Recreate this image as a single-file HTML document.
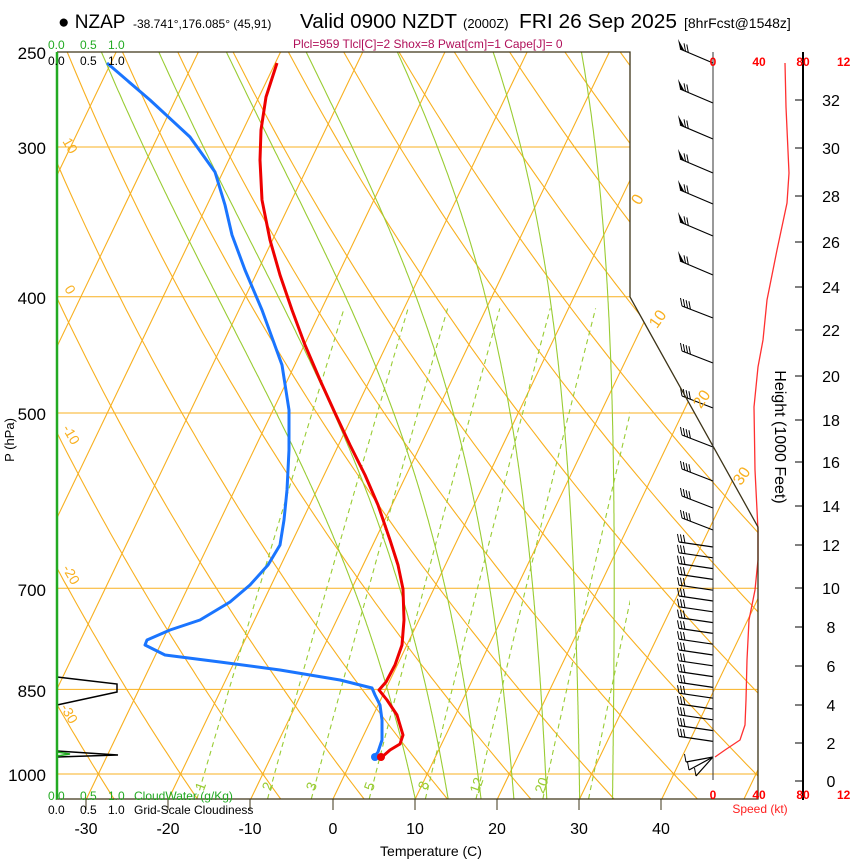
<!DOCTYPE html>
<html><head><meta charset="utf-8"><style>
html,body{margin:0;padding:0;background:#fff;}
svg{display:block;font-family:"Liberation Sans",sans-serif;}
</style></head><body>
<svg id="s" width="850" height="860" viewBox="0 0 850 860" xmlns="http://www.w3.org/2000/svg">
<defs><clipPath id="cp"><polygon points="57,52 630,52 630,297 758,527 758,799 57,799"/></clipPath>
<clipPath id="cm"><rect x="57" y="52" width="573" height="747"/></clipPath></defs>
<g id="grid" clip-path="url(#cp)"></g>
<g id="mgrid" clip-path="url(#cm)"></g>
<g id="data"></g>
<polyline points="57,52 630,52 630,297 758,527 758,799 57,799" fill="none" stroke="#3d3418" stroke-width="1.3"/>
<line x1="713" y1="52" x2="713" y2="780" stroke="#333" stroke-width="1"/>
<line x1="803" y1="52" x2="803" y2="800" stroke="#000" stroke-width="2"/>
<line x1="57" y1="52" x2="57" y2="799" stroke="#22aa22" stroke-width="2.5"/>
<g id="ticks"></g>
<text x="58" y="28" font-size="19">● NZAP</text>
<text x="133" y="28" font-size="12">-38.741°,176.085° (45,91)</text>
<text x="300" y="28" font-size="20" textLength="157" lengthAdjust="spacingAndGlyphs">Valid 0900 NZDT</text>
<text x="463" y="28" font-size="13">(2000Z)</text>
<text x="519" y="28" font-size="20" textLength="158" lengthAdjust="spacingAndGlyphs">FRI 26 Sep 2025</text>
<text x="684" y="28" font-size="14">[8hrFcst@1548z]</text>
<text x="293" y="48" font-size="12" fill="#b0105a">Plcl=959 Tlcl[C]=2 Shox=8 Pwat[cm]=1 Cape[J]= 0</text>
<g font-size="12" fill="#22aa22"><text x="48" y="49">0.0</text><text x="80" y="49">0.5</text><text x="108" y="49">1.0</text></g>
<g font-size="12" fill="#000"><text x="48" y="65">0.0</text><text x="80" y="65">0.5</text><text x="108" y="65">1.0</text></g>
<g font-size="12" fill="#22aa22"><text x="48" y="800">0.0</text><text x="80" y="800">0.5</text><text x="108" y="800">1.0</text><text x="134" y="800">CloudWater (g/Kg)</text></g>
<g font-size="12" fill="#000"><text x="48" y="814">0.0</text><text x="80" y="814">0.5</text><text x="108" y="814">1.0</text><text x="134" y="814">Grid-Scale Cloudiness</text></g>
<g font-size="17" text-anchor="end"><text x="46" y="59">250</text><text x="46" y="154">300</text><text x="46" y="304">400</text><text x="46" y="420">500</text><text x="46" y="596">700</text><text x="46" y="697">850</text><text x="46" y="781">1000</text></g>
<text transform="translate(14,440) rotate(-90)" font-size="13" text-anchor="middle">P (hPa)</text>
<g font-size="16" text-anchor="middle"><text x="86" y="834">-30</text><text x="168" y="834">-20</text><text x="250" y="834">-10</text><text x="333" y="834">0</text><text x="415" y="834">10</text><text x="497" y="834">20</text><text x="579" y="834">30</text><text x="661" y="834">40</text></g>
<text x="431" y="856" font-size="14" text-anchor="middle">Temperature (C)</text>
<g font-size="12" fill="#ff0000" font-weight="bold" text-anchor="middle"><text x="713" y="66">0</text><text x="759" y="66">40</text><text x="803" y="66">80</text><text x="847" y="66">120</text>
<text x="713" y="799">0</text><text x="759" y="799">40</text><text x="803" y="799">80</text><text x="847" y="799">120</text></g>
<text x="760" y="813" font-size="12" fill="#ff2020" text-anchor="middle">Speed (kt)</text>
<text transform="translate(775,437) rotate(90)" font-size="16" text-anchor="middle">Height (1000 Feet)</text>
<g id="hl" font-size="16" text-anchor="middle"></g>
<g font-size="16" fill="#f8b020" text-anchor="middle">
<text transform="translate(642,202) rotate(-60)">0</text>
<text transform="translate(662,322) rotate(-55)">10</text>
<text transform="translate(706,402) rotate(-55)">20</text>
<text transform="translate(746,479) rotate(-55)">30</text>
</g>
<g font-size="14" fill="#f8b020" text-anchor="middle">
<text transform="translate(66,148) rotate(60)">10</text>
<text transform="translate(66,292) rotate(60)">0</text>
<text transform="translate(67,437) rotate(60)">-10</text>
<text transform="translate(67,577) rotate(60)">-20</text>
<text transform="translate(65,716) rotate(60)">-30</text>
</g>
<g font-size="14" fill="#99cc33" text-anchor="middle">
<text transform="translate(205,788) rotate(-70)">1</text>
<text transform="translate(272,788) rotate(-70)">2</text>
<text transform="translate(316,788) rotate(-70)">3</text>
<text transform="translate(374,788) rotate(-70)">5</text>
<text transform="translate(428,787) rotate(-70)">8</text>
<text transform="translate(481,787) rotate(-70)">12</text>
<text transform="translate(546,787) rotate(-70)">20</text>
</g>
</svg>
<script>
(function(){
var NS="http://www.w3.org/2000/svg";
function el(par,tag,at){var e=document.createElementNS(NS,tag);for(var k in at)e.setAttribute(k,at[k]);document.getElementById(par).appendChild(e);return e;}
function Y(p){return 774-520.8*Math.log(1000/p);}
function X(T,p){return 333+8.22*T+0.48*(799-Y(p));}
var OR="#f8b020";
var pb=1049;
[300,400,500,700,850,1000].forEach(function(p){el("grid","line",{x1:57,x2:760,y1:Y(p),y2:Y(p),stroke:OR,"stroke-width":1});});
for(var T=-120;T<=60;T+=10){el("grid","line",{x1:X(T,pb),y1:Y(pb),x2:X(T,240),y2:Y(240),stroke:OR,"stroke-width":1.1});}
for(var th=-50;th<=150;th+=10){var pts=[];for(var p=1060;p>=240;p-=10){var Tk=(th+273.15)*Math.pow(p/1000,0.286);pts.push(X(Tk-273.15,p).toFixed(1)+","+Y(p).toFixed(1));}
el("grid","polyline",{points:pts.join(" "),fill:"none",stroke:OR,"stroke-width":1.1});}
[1,2,3,5,8,12,20,28].forEach(function(w){var pts=[];for(var p=1049;p>=400;p-=10){var e=w*p/(622+w);var l=Math.log(e/6.112);var Td=243.5*l/(17.67-l);pts.push(X(Td,p).toFixed(1)+","+Y(p).toFixed(1));}
el("mgrid","polyline",{points:pts.join(" "),fill:"none",stroke:"#99cc33","stroke-width":1.1,"stroke-dasharray":"5,4"});});
for(var T0=10;T0<=34;T0+=4){var Tk=T0+273.15,p=pb,pts=[];
while(p>=245){pts.push(X(Tk-273.15,p).toFixed(1)+","+Y(p).toFixed(1));
var Tc=Tk-273.15,es=6.112*Math.exp(17.67*Tc/(Tc+243.5)),rs=0.622*es/(p-es);
var dTdp=(287*Tk+2.5e6*rs)/(p*(1004+2.5e6*2.5e6*rs*0.622/(287*Tk*Tk)));
Tk-=dTdp*2;p-=2;}
el("mgrid","polyline",{points:pts.join(" "),fill:"none",stroke:"#99cc33","stroke-width":1.1});}
[86,168,250,333,415,497,579,661].forEach(function(x){el("ticks","line",{x1:x,x2:x,y1:799,y2:810,stroke:"#3d3418","stroke-width":1});});
var hy=[781,743,705,666,627,588,545,506,462,420,376,330,287,242,196,148,100];
hy.forEach(function(y,i){el("ticks","line",{x1:795,x2:803,y1:y,y2:y,stroke:"#000","stroke-width":1});var t=el("hl","text",{x:831,y:y+6});t.textContent=String(i*2);});
el("data","polyline",{points:"57,677 117,684 117,692 57,705",fill:"none",stroke:"#000","stroke-width":1.5});
el("data","polyline",{points:"57,751 118,755 57,757",fill:"none",stroke:"#000","stroke-width":1.5});
el("data","polyline",{points:"57,752 70,754 57,756",fill:"none",stroke:"#22aa22","stroke-width":1.5});
var red="277,63 266,97 261,130 260,160 262,200 270,240 280,275 292,310 305,345 320,380 335,413 350,445 365,475 378,505 390,540 398,565 403,589 404,620 402,645 395,665 386,682 379,690 387,700 397,715 403,735 400,744 390,750 382,757";
var blue="107,63 150,100 190,137 215,172 225,205 232,235 245,270 262,310 282,365 289,410 289,450 287,490 284,520 280,545 268,565 250,585 230,602 200,620 170,630 147,640 145,645 165,655 220,662 280,670 340,680 372,688 375,695 380,705 382,720 382,740 378,752 374,757";
el("data","polyline",{points:blue,fill:"none",stroke:"#1a75ff","stroke-width":3,"stroke-linejoin":"round"});
el("data","polyline",{points:red,fill:"none",stroke:"#ee0000","stroke-width":3,"stroke-linejoin":"round"});
el("data","circle",{cx:375,cy:757,r:4,fill:"#1a75ff"});
el("data","circle",{cx:381,cy:757,r:4,fill:"#ee0000"});
el("data","polyline",{points:"785,63 786,107 789,173 787,203 777,250 767,300 763,340 758,367 754,407 755,470 758,530 758,560 755,590 749,620 747,660 746,700 745,725 740,740 725,750 715,757",fill:"none",stroke:"#ff3030","stroke-width":1.3});
function barb(y,dx,dy,pen,nf){var ex=713+dx,ey=y+dy;el("data","line",{x1:713,y1:y,x2:ex,y2:ey,stroke:"#000","stroke-width":1.2});
var L=Math.sqrt(dx*dx+dy*dy),ux=dx/L,uy=dy/L;var off=0;
if(pen){el("data","polygon",{points:ex+","+ey+" "+(ex+ux*-5)+","+(ey+uy*-5)+" "+(ex-2)+","+(ey-10),fill:"#000"});off=6;}
for(var i=0;i<nf;i++){var bx=ex-ux*(off+i*3),by=ey-uy*(off+i*3);el("data","line",{x1:bx,y1:by,x2:bx-1.5,y2:by-8,stroke:"#000","stroke-width":1});}}
[63,103,139,173,204,236,275].forEach(function(y){barb(y,-33,-14,true,2);});
[318,363,408,447,481,508,530].forEach(function(y){barb(y,-31,-12,false,4);});
for(var y=547;y<=742;y+=10.8){barb(y,-34,-5,false,3);}
barb(757,-27,5,false,1);barb(757,-24,13,false,1);barb(757,-17,19,false,1);
})();
</script>
</body></html>
